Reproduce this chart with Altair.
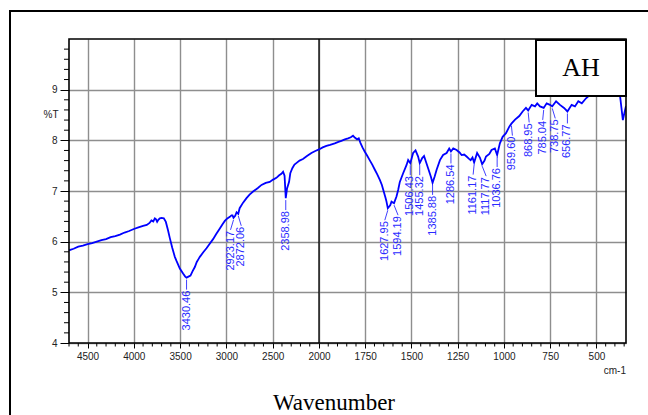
import altair as alt
import pandas as pd

# ---- spectrum (wavenumber in cm-1, %T) ----
wn = [4700, 4650, 4600, 4550, 4500, 4450, 4400, 4350, 4300, 4250, 4200, 4150,
      4100, 4050, 4000, 3950, 3900, 3860, 3830, 3810, 3790, 3773, 3760, 3748,
      3735, 3719, 3700, 3676, 3654, 3630, 3611, 3585, 3557, 3539, 3503, 3468,
      3445, 3430.46, 3410, 3388, 3365, 3341, 3320, 3300, 3287, 3250, 3215, 3180,
      3144, 3110, 3071, 3040, 3017, 2990, 2963, 2945, 2934, 2923.17, 2905, 2890,
      2872.06, 2857, 2820, 2783, 2750, 2712, 2660, 2621, 2575, 2532, 2500, 2460,
      2430, 2406, 2388, 2372, 2358.98, 2345, 2323, 2310, 2288, 2265, 2245, 2210,
      2173, 2130, 2082, 2040, 2000, 1980, 1960, 1940, 1915, 1895, 1879, 1860,
      1843, 1828, 1816, 1805, 1794, 1785, 1776, 1765, 1753, 1740, 1726, 1712,
      1698, 1685, 1671, 1660, 1650, 1640, 1635, 1627.95, 1615, 1608, 1594.19, 1581,
      1572, 1563, 1545, 1527, 1518, 1506.43, 1491, 1478, 1464, 1455.32, 1442, 1432,
      1410, 1395, 1385.88, 1375, 1364, 1346, 1329, 1310, 1296, 1286.54, 1274, 1256,
      1240, 1229, 1215, 1202, 1190, 1180, 1170, 1161.17, 1145, 1130, 1117.77, 1105,
      1097, 1079, 1067, 1049, 1036.76, 1022, 1007, 989, 971, 959.60, 940, 917,
      899, 881, 868.95, 850, 832, 820, 805, 785.04, 769, 751, 738.75, 718,
      697, 675, 656.77, 634, 616, 598, 579, 556, 544, 517, 490, 460,
      430, 400, 372, 357, 345, 340]
tr = [5.83, 5.86, 5.90, 5.92, 5.95, 5.97, 6.00, 6.03, 6.05, 6.09, 6.11, 6.14,
      6.18, 6.21, 6.25, 6.28, 6.31, 6.33, 6.37, 6.42, 6.40, 6.46, 6.44, 6.39,
      6.43, 6.46, 6.47, 6.46, 6.39, 6.22, 6.07, 5.88, 5.70, 5.62, 5.47, 5.37,
      5.31, 5.29, 5.31, 5.33, 5.42, 5.50, 5.60, 5.66, 5.70, 5.79, 5.87, 5.96,
      6.05, 6.15, 6.26, 6.35, 6.41, 6.46, 6.49, 6.52, 6.52, 6.47, 6.51, 6.58,
      6.55, 6.66, 6.77, 6.86, 6.93, 6.99, 7.06, 7.12, 7.16, 7.18, 7.22, 7.26,
      7.31, 7.34, 7.38, 7.30, 6.86, 7.05, 7.18, 7.35, 7.45, 7.52, 7.55, 7.60,
      7.63, 7.69, 7.75, 7.79, 7.82, 7.86, 7.89, 7.91, 7.94, 7.97, 7.99, 8.02,
      8.04, 8.06, 8.09, 8.05, 8.02, 8.04, 7.95, 7.86, 7.78, 7.70, 7.61, 7.52,
      7.42, 7.33, 7.22, 7.12, 6.99, 6.86, 6.79, 6.66, 6.72, 6.79, 6.76, 6.89,
      7.02, 7.18, 7.35, 7.51, 7.61, 7.55, 7.75, 7.80, 7.68, 7.55, 7.65, 7.69,
      7.45, 7.28, 7.16, 7.28, 7.42, 7.61, 7.71, 7.75, 7.84, 7.78, 7.84, 7.81,
      7.76, 7.71, 7.72, 7.68, 7.64, 7.61, 7.66, 7.56, 7.75, 7.66, 7.53, 7.60,
      7.68, 7.73, 7.81, 7.84, 7.71, 7.94, 8.07, 8.14, 8.27, 8.33, 8.41, 8.48,
      8.57, 8.64, 8.59, 8.70, 8.67, 8.73, 8.67, 8.64, 8.73, 8.70, 8.67, 8.77,
      8.70, 8.64, 8.57, 8.70, 8.67, 8.77, 8.73, 8.83, 8.87, 8.90, 8.95, 9.00,
      9.02, 8.98, 8.87, 8.40, 8.60, 8.68]

# picked peaks
peaks = [3430.46, 2923.17, 2872.06, 2358.98, 1627.95, 1594.19, 1506.43, 1455.32,
         1385.88, 1286.54, 1161.17, 1117.77, 1036.76, 959.60, 868.95, 785.04,
         738.75, 656.77]

x_ticks = [4500, 4000, 3500, 3000, 2500, 2000, 1750, 1500, 1250, 1000, 750, 500]
y_ticks = [4, 5, 6, 7, 8, 9]

# axis break: the scale is expanded 2x below this wavenumber
BREAK = 2000
W, H = 557, 304
BLUE = "#0000ff"
LABEL_BLUE = "#2a2aff"
SANS = "Liberation Sans"
SERIF = "Liberation Serif"

# sideways nudge (px) for labels of crowded peaks
label_shift = {2923.17: -3, 2872.06: 3, 1627.95: -3, 1594.19: 4, 1117.77: 4,
               738.75: 3, 959.60: 1, 868.95: 1, 785.04: -1, 1161.17: -1}

spec = pd.DataFrame({"wn": wn, "tr": tr})
lookup = dict(zip(wn, tr))
pk = pd.DataFrame({
    "wn": peaks,
    "tr": [lookup[p] for p in peaks],
    "label": [f"{p:.2f}" for p in peaks],
    "shift": [label_shift.get(p, 0) for p in peaks],
})

minor_x = pd.DataFrame({"wn": [v for v in range(4700, BREAK, -100) if v % 500]
                        + [v for v in range(1950, 340, -50) if v % 250]})
minor_y = pd.DataFrame({"tr": [round(4 + 0.2 * i, 1) for i in range(1, 30) if i % 5]})

x_scale = alt.Scale(domain=[4700, BREAK, 340], range=[0, 250, W], nice=False, zero=False)
y_scale = alt.Scale(domain=[4, 10], nice=False, zero=False)

common_axis = dict(title=None, domain=False, grid=True, gridColor="#8e8e8e",
                   gridWidth=1.4, tickColor="black", tickWidth=1,
                   labelFont=SANS, labelFontSize=10, labelColor="#222222",
                   labelPadding=3, labelFlush=False, labelOverlap=False)
x_axis = alt.Axis(values=x_ticks, format="d", tickSize=5, **common_axis)
y_axis = alt.Axis(values=y_ticks, format="d", tickSize=9, **common_axis)

X = alt.X("wn:Q", scale=x_scale, axis=x_axis)
Y = alt.Y("tr:Q", scale=y_scale, axis=y_axis)

layers = []

# minor ticks
layers.append(alt.Chart(minor_x).mark_rule(color="black", strokeWidth=1).encode(
    x=X, y=alt.value(H), y2=alt.value(H + 3.5)))
layers.append(alt.Chart(minor_y).mark_rule(color="black", strokeWidth=1).encode(
    y=Y, x=alt.value(0), x2=alt.value(-5)))

# black line at the scale break
layers.append(alt.Chart(pd.DataFrame({"wn": [BREAK]})).mark_rule(
    color="black", strokeWidth=1.3).encode(x=X, y=alt.value(0), y2=alt.value(H)))

# spectrum
layers.append(alt.Chart(spec).mark_line(color=BLUE, strokeWidth=1.8, clip=True).encode(
    x=X, y=Y))

# peak labels with leader lines
for s in sorted(pk["shift"].unique()):
    sub = pk[pk["shift"] == s]
    layers.append(alt.Chart(sub).mark_rule(
        color=LABEL_BLUE, strokeWidth=0.9, yOffset=2, y2Offset=12, x2Offset=int(s)
    ).encode(x=X, y=Y, x2=alt.X2("wn"), y2=alt.Y2("tr")))
    layers.append(alt.Chart(sub).mark_text(
        angle=270, align="right", baseline="middle", dx=-13, dy=int(s),
        font=SANS, fontSize=11, color=LABEL_BLUE
    ).encode(x=X, y=Y, text="label:N"))

# sample tag box
layers.append(alt.Chart(pd.DataFrame({"k": [0]})).mark_rect(
    fill="white", stroke="black", strokeWidth=2).encode(
    x=alt.value(467), x2=alt.value(557), y=alt.value(1), y2=alt.value(57)))
layers.append(alt.Chart(pd.DataFrame({"t": ["AH"]})).mark_text(
    font=SERIF, fontSize=26, color="black", align="center", baseline="alphabetic").encode(
    text="t:N", x=alt.value(512), y=alt.value(37)))

# plot frame
layers.append(alt.Chart(pd.DataFrame({"k": [0]})).mark_rect(
    fill=None, filled=False, stroke="black", strokeWidth=1.6).encode(
    x=alt.value(0), x2=alt.value(W), y=alt.value(0), y2=alt.value(H)))

# outer border
layers.append(alt.Chart(pd.DataFrame({"k": [0]})).mark_rect(
    filled=False, stroke="black", strokeWidth=2).encode(
    x=alt.value(-59), x2=alt.value(W + 60), y=alt.value(-28), y2=alt.value(H + 100)))

# axis captions
layers.append(alt.Chart(pd.DataFrame({"t": ["%T"]})).mark_text(
    font=SANS, fontSize=10, color="#222222", align="center", baseline="middle").encode(
    text="t:N", x=alt.value(-18), y=alt.value(76)))
layers.append(alt.Chart(pd.DataFrame({"t": ["cm-1"]})).mark_text(
    font=SANS, fontSize=10, color="#222222", align="right", baseline="middle").encode(
    text="t:N", x=alt.value(W), y=alt.value(332)))
layers.append(alt.Chart(pd.DataFrame({"t": ["Wavenumber"]})).mark_text(
    font=SERIF, fontSize=23, color="black", align="center", baseline="alphabetic").encode(
    text="t:N", x=alt.value(265), y=alt.value(371)))

chart = alt.layer(*layers).properties(
    width=W, height=H,
    padding={"left": 69, "top": 39, "right": 648 - 69 - W, "bottom": 415 - 39 - H},
    autosize="none", background="white",
).configure_view(stroke=None)

chart.save("out.html", embed_options={"renderer": "svg", "actions": False})
